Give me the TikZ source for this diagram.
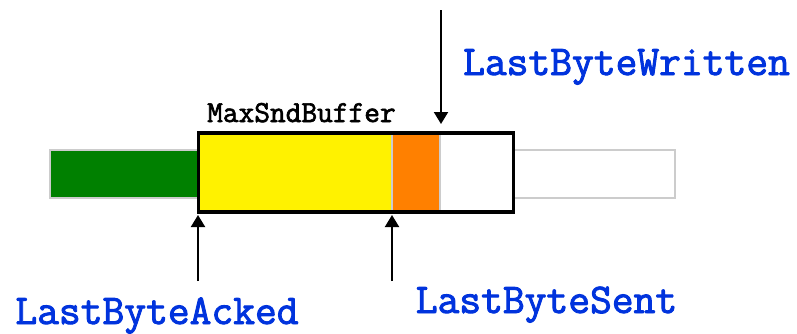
\documentclass[tikz,border=0pt]{standalone}
\usepackage{fontspec}
\setmonofont{Latin Modern Mono}[AutoFakeBold=2.2]
\usetikzlibrary{arrows.meta}
\definecolor{lblue}{RGB}{0,51,221}
\definecolor{bgreen}{RGB}{0,128,0}
\definecolor{borange}{RGB}{255,128,0}
\definecolor{lgray}{RGB}{204,204,204}
\tikzset{
  seg/.style={inner sep=0pt, outer sep=0pt, anchor=north west},
  lbl/.style={text=lblue, font=\ttfamily\bfseries\fontsize{42.3}{42.3}\selectfont, inner sep=0pt, anchor=base},
  arr/.style={line width=2pt, -{Triangle[length=12pt,width=14pt]}},
}
\begin{document}
\begin{tikzpicture}[x=1pt,y=-1pt]
\useasboundingbox (0,0) rectangle (797,333);
% outer light bars
\node[seg, draw=lgray, line width=2.5pt, fill=white, minimum width=161pt, minimum height=48pt] (free) at (514,150) {};
\node[seg, draw=lgray, line width=2.5pt, fill=bgreen, minimum width=148pt, minimum height=48pt] (acked) at (50,150) {};
% buffer contents
\node[seg, fill=yellow, minimum width=194pt, minimum height=79pt] (sent) at (198,133) {};
\node[seg, fill=borange, minimum width=48pt, minimum height=79pt] (written) at (392,133) {};
\draw[lgray, line width=1.2pt] (sent.north east) -- (sent.south east);
\draw[lgray, line width=1.2pt] (written.north east) -- (written.south east);
% buffer outline
\node[seg, draw=black, line width=3.2pt, minimum width=315pt, minimum height=79pt] (buf) at (198.5,133) {};
% labels
\node[inner sep=0pt, anchor=base west, font=\ttfamily\bfseries\fontsize{30.5}{30.5}\selectfont] (maxl) at (207,122) {MaxSndBuffer};
\node[lbl] (lwritten) at (626.5,75) {LastByteWritten};
\node[lbl] (lacked) at (157,324) {LastByteAcked};
\node[lbl] (lsent) at (546.5,313) {LastByteSent};
% arrows
\coordinate (wtop) at (441,10);
\coordinate (abot) at (198,281);
\coordinate (sbot) at (392,281);
\draw[arr] (wtop) -- ([yshift=9pt]buf.north -| wtop);
\draw[arr] (abot) -- ([yshift=-3pt]buf.south -| abot);
\draw[arr] (sbot) -- ([yshift=-3pt]buf.south -| sbot);
\end{tikzpicture}
\end{document}
